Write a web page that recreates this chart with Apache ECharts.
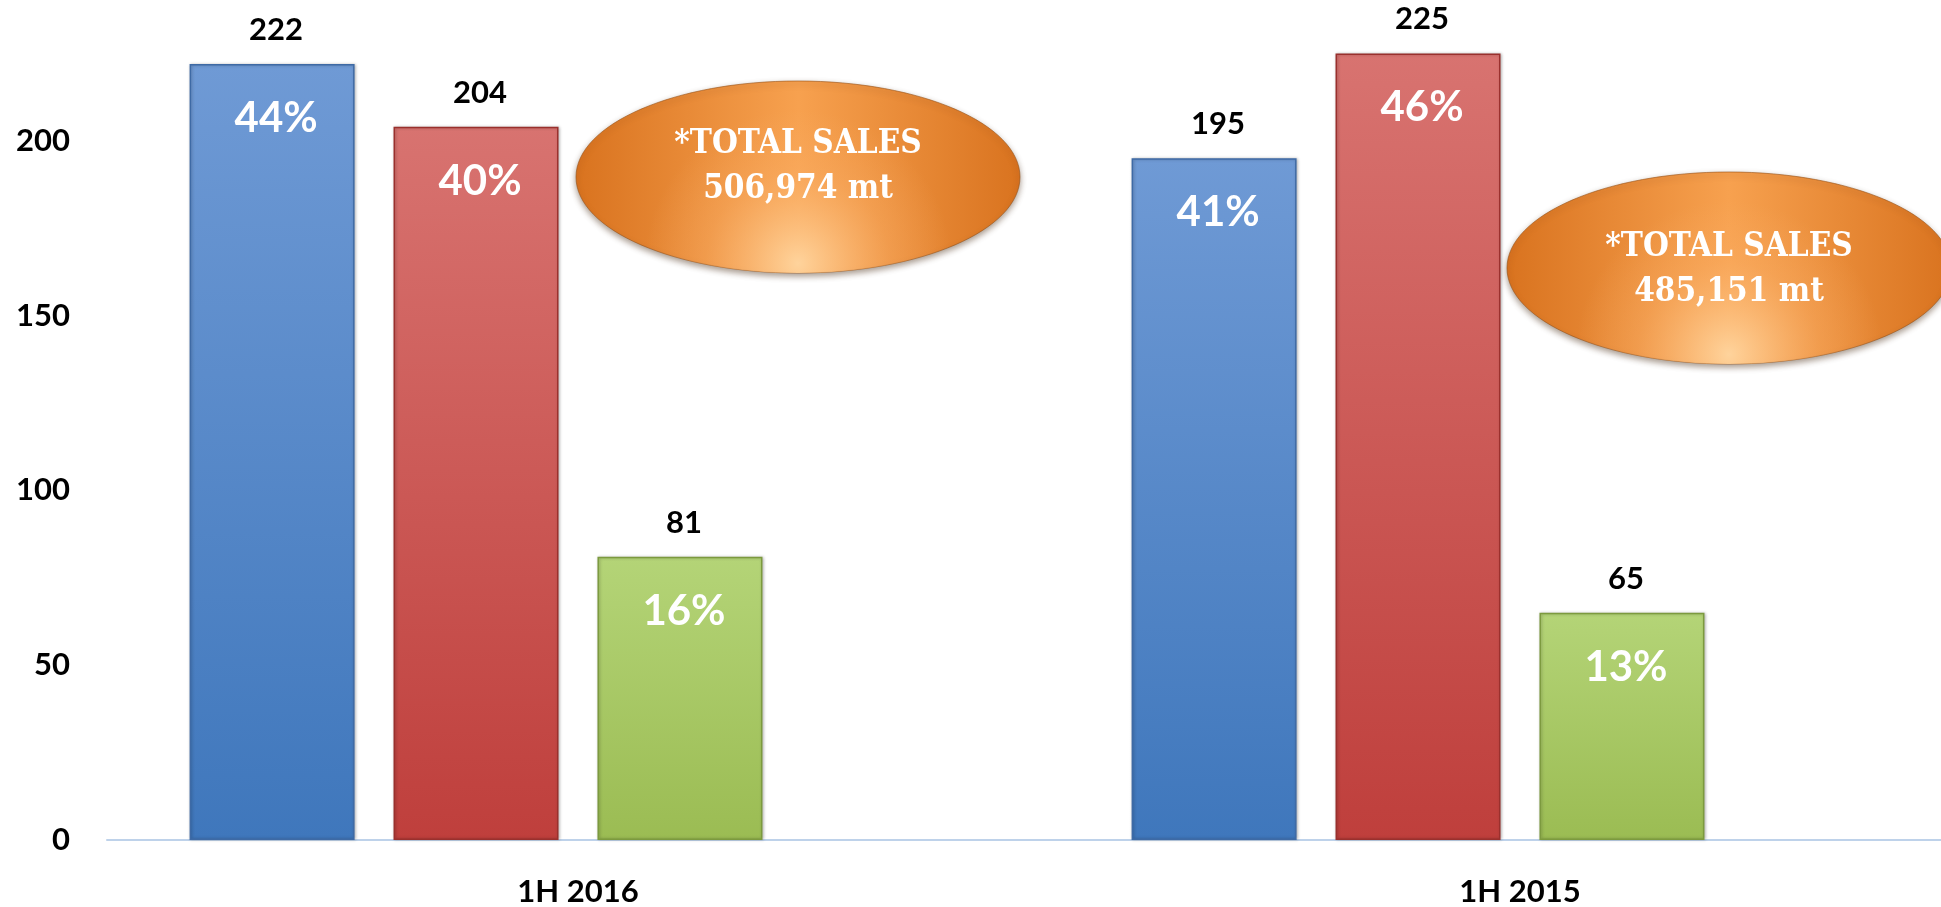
<!DOCTYPE html>
<html>
<head>
<meta charset="utf-8">
<title>Sales 1H 2016 vs 1H 2015</title>
<script src="https://cdn.jsdelivr.net/npm/echarts@6/dist/echarts.min.js"></script>
<style>
    html, body {
        margin: 0;
        padding: 0;
        background: #fff;
        overflow: hidden;
        width: 1941px;
        height: 907px;
    }
    /* 图表比窗口大一些，右侧和顶部被裁掉，和原图一致 */
    #chart {
        position: absolute;
        left: 0;
        top: -34px;
        width: 1991px;
        height: 941px;
    }
</style>
</head>
<body>
<div id="chart"></div>
<script>
    // 数据
    const categories = ['1H 2016', '1H 2015']
    const blueValues = [222, 195]
    const redValues = [204, 225]
    const greenValues = [81, 65]
    const blueShares = ['44%', '41%']
    const redShares = ['40%', '46%']
    const greenShares = ['16%', '13%']
    const totalSales = ['506,974 mt', '485,151 mt']

    const labelFont = 'Lato'
    const bubbleFont = 'bold 33px "DejaVu Serif Condensed", "Liberation Serif", serif'

    // 柱子渐变
    function barGradient(top, bottom) {
        return new echarts.graphic.LinearGradient(0, 0, 0, 1, [
            { offset: 0, color: top },
            { offset: 1, color: bottom }
        ])
    }

    function barSeries(name, values, shares, top, bottom, edge) {
        return {
            name: name,
            type: 'bar',
            data: values,
            barWidth: 165,
            barGap: '23.6%',
            itemStyle: {
                color: barGradient(top, bottom),
                borderColor: edge,
                borderWidth: 1.5,
                shadowColor: 'rgba(0,0,0,0.25)',
                shadowBlur: 3,
                shadowOffsetX: 1
            },
            label: {
                show: true,
                position: 'insideTop',
                distance: 0,
                offset: [4, -74],
                formatter: (p) => `{v|${p.value}}\n{p|${shares[p.dataIndex]}}`,
                rich: {
                    v: {
                        fontFamily: labelFont,
                        fontWeight: 'bold',
                        fontSize: 31,
                        color: '#000',
                        lineHeight: 80
                    },
                    p: {
                        fontFamily: labelFont,
                        fontWeight: 'bold',
                        fontSize: 42,
                        color: '#fff',
                        lineHeight: 97
                    }
                }
            }
        }
    }

    // 椭圆标注
    function totalBubble(cx, cy, textY, text) {
        return [
            {
                type: 'ellipse',
                shape: { cx: cx, cy: cy, rx: 222, ry: 96 },
                style: {
                    fill: new echarts.graphic.LinearGradient(0, 0, 1, 0, [
                        { offset: 0, color: '#d9731f' },
                        { offset: 0.5, color: '#f7a14f' },
                        { offset: 1, color: '#d9731f' }
                    ]),
                    stroke: 'rgba(150,80,20,0.6)',
                    lineWidth: 1,
                    shadowColor: 'rgba(60,30,0,0.45)',
                    shadowBlur: 6,
                    shadowOffsetY: 3
                },
                z: 10
            },
            {
                type: 'ellipse',
                shape: { cx: cx, cy: cy, rx: 222, ry: 96 },
                style: {
                    fill: new echarts.graphic.RadialGradient(0.5, 0.95, 0.8, [
                        { offset: 0, color: 'rgba(255,214,160,0.95)' },
                        { offset: 0.6, color: 'rgba(252,180,110,0.35)' },
                        { offset: 1, color: 'rgba(252,180,110,0)' }
                    ])
                },
                z: 11
            },
            {
                type: 'text',
                z: 12,
                style: {
                    text: '*TOTAL SALES\n' + text,
                    x: cx,
                    y: textY,
                    fill: '#fff',
                    font: bubbleFont,
                    lineHeight: 45,
                    align: 'center',
                    verticalAlign: 'middle'
                }
            }
        ]
    }

    let chart = echarts.init(document.getElementById('chart'))
    chart.setOption({
        backgroundColor: '#fff',
        animation: false,
        grid: {
            left: 107,
            right: 0,
            top: 0,
            bottom: 63
        },
        xAxis: {
            type: 'category',
            data: categories,
            axisLine: { lineStyle: { color: '#bed2ea', width: 2 } },
            axisTick: { show: false },
            axisLabel: {
                margin: 36,
                fontFamily: labelFont,
                fontWeight: 'bold',
                fontSize: 31,
                color: '#000'
            }
        },
        yAxis: {
            type: 'value',
            min: 0,
            max: 250,
            interval: 50,
            splitLine: { show: false },
            axisLine: { show: false },
            axisTick: { show: false },
            axisLabel: {
                showMaxLabel: false,
                margin: 37,
                fontFamily: labelFont,
                fontWeight: 'bold',
                fontSize: 31,
                color: '#000'
            }
        },
        series: [
            barSeries('Blue', blueValues, blueShares, '#6f9ad5', '#3f77bc', '#3e6aa5'),
            barSeries('Red', redValues, redShares, '#d87370', '#bf3f3c', '#9a302d'),
            barSeries('Green', greenValues, greenShares, '#b4d477', '#9bbc53', '#7c9a3e'),
            // 空的第四组占位
            { name: 'Empty', type: 'bar', data: [null, null], barWidth: 165 }
        ],
        graphic: [].concat(
            totalBubble(798, 211, 201, totalSales[0]),
            totalBubble(1729, 302, 304, totalSales[1])
        )
    })
</script>
</body>
</html>
